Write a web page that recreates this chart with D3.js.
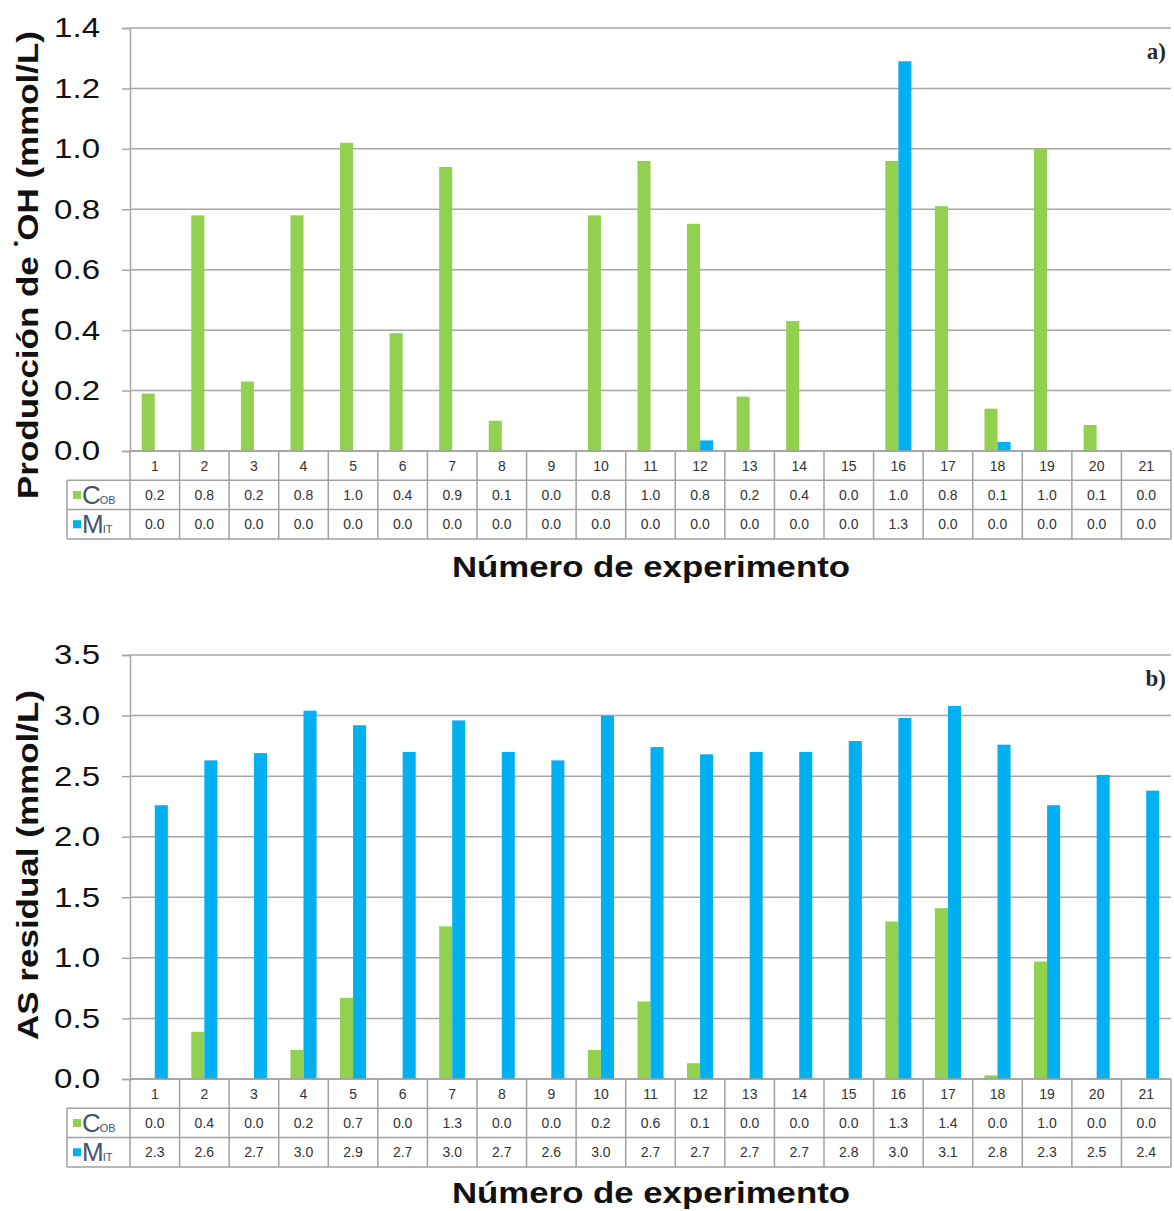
<!DOCTYPE html>
<html>
<head>
<meta charset="utf-8">
<script src="https://cdn.jsdelivr.net/npm/d3@7"></script>
<style>
  html, body { margin: 0; padding: 0; background: #fff; }
  svg { display: block; font-family: "Liberation Sans", Arial, sans-serif; }
</style>
</head>
<body>
<svg id="chart" width="1174" height="1211"></svg>
<script>
// Experiment numbers shared by both panels
const categories = ["1","2","3","4","5","6","7","8","9","10","11","12","13","14","15","16","17","18","19","20","21"];

// Panel a) hydroxyl radical production (mmol/L)
const ohCob = [0.19, 0.78, 0.23, 0.78, 1.02, 0.39, 0.94, 0.10, 0, 0.78, 0.96, 0.752, 0.18, 0.43, 0, 0.96, 0.81, 0.14, 1.00, 0.086, 0];
const ohMit = [0, 0, 0, 0, 0, 0, 0, 0, 0, 0, 0, 0.035, 0, 0, 0, 1.29, 0, 0.03, 0, 0, 0];
const ohTicks = [0, 0.2, 0.4, 0.6, 0.8, 1.0, 1.2, 1.4];

// Panel b) residual AS (mmol/L)
const asCob = [0, 0.39, 0, 0.24, 0.67, 0, 1.26, 0, 0, 0.24, 0.64, 0.13, 0, 0, 0, 1.30, 1.41, 0.03, 0.97, 0, 0];
const asMit = [2.26, 2.63, 2.69, 3.04, 2.92, 2.70, 2.96, 2.70, 2.63, 3.00, 2.74, 2.68, 2.70, 2.70, 2.79, 2.98, 3.08, 2.76, 2.26, 2.51, 2.38];
const asTicks = [0, 0.5, 1.0, 1.5, 2.0, 2.5, 3.0, 3.5];

const seriesMeta = [
  { key: "C", main: "C", sub: "OB", color: "#92d050" },
  { key: "M", main: "M", sub: "IT", color: "#00b0f0" }
];

const svg = d3.select("#chart");
const fmt = d3.format(".1f");
const gridColor = "#a6a6a6";
const tableColor = "#a0a0a0";

function drawPanel(cfg) {
  const left = 130, right = 1171;
  const x = d3.scaleBand().domain(categories).range([left, right]);
  const xs = d3.scaleBand().domain(seriesMeta.map(s => s.key))
    .range([0, x.bandwidth()]).paddingOuter(0.9);
  const y = d3.scaleLinear().domain([0, cfg.ticks[cfg.ticks.length - 1]])
    .range([cfg.bottom, cfg.top]);

  const g = svg.append("g");

  // horizontal gridlines
  g.append("g").selectAll("line").data(cfg.ticks).join("line")
    .attr("x1", left).attr("x2", right)
    .attr("y1", d => y(d)).attr("y2", d => y(d))
    .attr("stroke", gridColor).attr("stroke-width", 1.5);

  // value axis with outward ticks
  const axis = g.append("g").attr("transform", `translate(${left},0)`)
    .call(d3.axisLeft(y).tickValues(cfg.ticks).tickFormat(fmt).tickSize(8).tickPadding(22));
  axis.select(".domain").attr("stroke", gridColor).attr("stroke-width", 1.5);
  axis.selectAll(".tick line").attr("stroke", gridColor).attr("stroke-width", 1.5);
  axis.selectAll(".tick text")
    .attr("font-size", 28).attr("fill", "#111")
    .attr("font-family", "'Liberation Sans', Arial, sans-serif")
    .attr("transform", "scale(1.18,1)").attr("x", -30 / 1.18);

  // bars
  const values = { C: cfg.cob, M: cfg.mit };
  seriesMeta.forEach(s => {
    g.append("g").selectAll("rect").data(categories).join("rect")
      .attr("x", (c) => x(c) + xs(s.key))
      .attr("width", xs.bandwidth())
      .attr("y", (c, i) => y(values[s.key][i]))
      .attr("height", (c, i) => y(0) - y(values[s.key][i]))
      .attr("fill", s.color);
  });

  // data table under the axis
  const rowH = cfg.rowH;
  const legendLeft = 67;
  const t0 = cfg.bottom;
  const tg = g.append("g");
  // category row
  tg.selectAll("text.cat").data(categories).join("text")
    .attr("class", "cat")
    .attr("x", c => x(c) + x.bandwidth() / 2)
    .attr("y", t0 + rowH / 2 + 5)
    .attr("text-anchor", "middle").attr("font-size", 14).attr("fill", "#333")
    .text(c => c);
  // value rows
  seriesMeta.forEach((s, r) => {
    const yc = t0 + rowH * (r + 1) + rowH / 2;
    tg.selectAll(null).data(categories).join("text")
      .attr("x", c => x(c) + x.bandwidth() / 2)
      .attr("y", yc + 5)
      .attr("text-anchor", "middle").attr("font-size", 14).attr("fill", "#333")
      .text((c, i) => fmt(values[s.key][i]));
    // legend key
    tg.append("rect").attr("x", legendLeft + 6).attr("y", yc - 4).attr("width", 8).attr("height", 8)
      .attr("fill", s.color);
    const lt = tg.append("text").attr("x", legendLeft + 15).attr("y", yc + 9)
      .attr("fill", "#44546a").attr("font-size", 26);
    lt.append("tspan").text(s.main).attr("letter-spacing", -1);
    lt.append("tspan").text(s.sub).attr("font-size", 11);
  });
  // table grid lines
  const tableBottom = t0 + rowH * 3;
  const hl = [
    { x1: left, x2: right, y: t0 },
    { x1: legendLeft, x2: right, y: t0 + rowH },
    { x1: legendLeft, x2: right, y: t0 + rowH * 2 },
    { x1: legendLeft, x2: right, y: tableBottom }
  ];
  tg.selectAll("line.h").data(hl).join("line")
    .attr("x1", d => d.x1).attr("x2", d => d.x2)
    .attr("y1", d => d.y).attr("y2", d => d.y)
    .attr("stroke", tableColor).attr("stroke-width", 1.5);
  const vx = categories.map(c => x(c)).concat([right]);
  tg.selectAll("line.v").data(vx).join("line")
    .attr("x1", d => d).attr("x2", d => d)
    .attr("y1", t0).attr("y2", tableBottom)
    .attr("stroke", tableColor).attr("stroke-width", 1.5);
  tg.append("line").attr("x1", legendLeft).attr("x2", legendLeft)
    .attr("y1", t0 + rowH).attr("y2", tableBottom)
    .attr("stroke", tableColor).attr("stroke-width", 1.5);

  // panel tag
  g.append("text").attr("x", 1166).attr("y", cfg.top + 31)
    .attr("text-anchor", "end").attr("font-size", 23).attr("font-weight", "bold")
    .attr("font-family", "'Liberation Serif', serif").attr("fill", "#2a2a2a")
    .text(cfg.tag);

  // axis titles
  g.append("text").attr("x", 651).attr("y", cfg.xTitleY)
    .attr("text-anchor", "middle").attr("font-size", 30).attr("font-weight", "bold").attr("fill", "#111")
    .attr("textLength", 398).attr("lengthAdjust", "spacingAndGlyphs")
    .text("Número de experimento");

  const yt = g.append("text")
    .attr("transform", `translate(${38},${cfg.yTitleC}) rotate(-90)`)
    .attr("text-anchor", "middle").attr("font-size", 30).attr("font-weight", "bold").attr("fill", "#111")
    .attr("textLength", cfg.yTitleLen).attr("lengthAdjust", "spacingAndGlyphs");
  cfg.yTitle(yt);
}

drawPanel({
  top: 28, bottom: 451, rowH: 29.3,
  ticks: ohTicks, cob: ohCob, mit: ohMit, tag: "a)",
  xTitleY: 577, yTitleC: 265, yTitleLen: 468,
  yTitle: t => {
    t.append("tspan").text("Producción de ");
    t.append("tspan").text("•").attr("font-size", 14).attr("baseline-shift", "120%");
    t.append("tspan").text("OH (mmol/L)").attr("baseline-shift", "0%");
  }
});

drawPanel({
  top: 655, bottom: 1079, rowH: 29.3,
  ticks: asTicks, cob: asCob, mit: asMit, tag: "b)",
  xTitleY: 1203, yTitleC: 865, yTitleLen: 350,
  yTitle: t => t.text("AS residual (mmol/L)")
});
</script>
</body>
</html>
